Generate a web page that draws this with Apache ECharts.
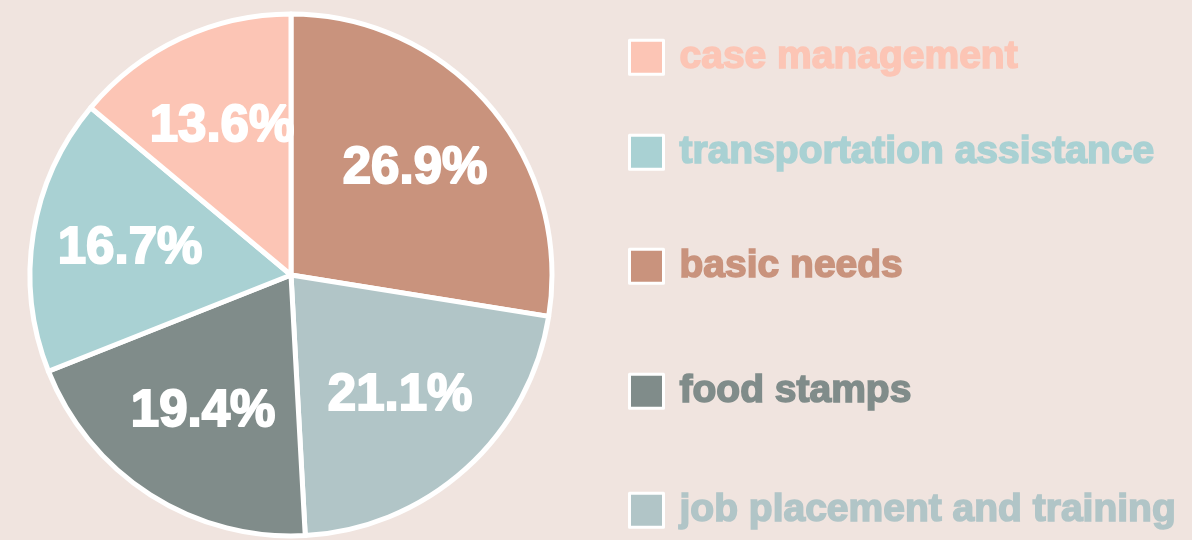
<!DOCTYPE html>
<html>
<head>
<meta charset="utf-8">
<script src="https://cdn.jsdelivr.net/npm/echarts@6/dist/echarts.min.js"></script>
<style>
  html, body { margin: 0; padding: 0; background: #f0e4df; }
  #chart { width: 1192px; height: 540px; }
</style>
</head>
<body>
<div id="chart"></div>
<script>
// Slices in drawing order (clockwise from 12 o'clock)
const categories = ['basic needs', 'job placement and training', 'food stamps', 'transportation assistance', 'case management'];
const values = [26.9, 21.1, 19.4, 16.7, 13.6];
const colors = ['#c9937d', '#b1c5c7', '#808c8a', '#a9d1d3', '#fcc5b5'];
// Legend order (top to bottom)
const legendOrder = ['case management', 'transportation assistance', 'basic needs', 'food stamps', 'job placement and training'];
const legendCenters = [57, 152, 266, 391, 510];

const FONT = '"Liberation Sans", Arial, sans-serif';
const colorOf = {};
categories.forEach((c, i) => colorOf[c] = colors[i]);

const pieData = categories.map((c, i) => ({ name: c, value: values[i], itemStyle: { color: colors[i] } }));

const legends = legendOrder.map((name, i) => ({
  orient: 'vertical',
  left: 628,
  top: legendCenters[i] - 20,
  padding: 0,
  icon: 'rect',
  itemWidth: 34,
  itemHeight: 34,
  selectedMode: false,
  itemStyle: { borderColor: '#ffffff', borderWidth: 3 },
  textStyle: {
    fontFamily: FONT,
    fontWeight: 'bold',
    fontSize: 39,
    lineHeight: 40,
    padding: [0, 0, 0, 11],
    color: colorOf[name],
    textBorderColor: colorOf[name],
    textBorderWidth: 1.6
  },
  data: [{ name: name, textStyle: { color: colorOf[name], textBorderColor: colorOf[name] } }]
}));

const chart = echarts.init(document.getElementById('chart'), null, { renderer: 'canvas' });
chart.setOption({
  backgroundColor: '#f0e4df',
  animation: false,
  legend: legends,
  series: [
    {
      type: 'pie',
      center: [291, 275],
      radius: 261,
      startAngle: 90,
      clockwise: true,
      silent: true,
      label: { show: false },
      labelLine: { show: false },
      itemStyle: { borderColor: '#ffffff', borderWidth: 5 },
      data: pieData
    },
    {
      type: 'pie',
      center: [291, 275],
      radius: [58, 262],
      startAngle: 90,
      clockwise: true,
      silent: true,
      legendHoverLink: false,
      itemStyle: { color: 'rgba(0,0,0,0)', borderWidth: 0 },
      label: {
        show: true,
        position: 'inside',
        formatter: p => p.value.toFixed(1) + '%',
        color: '#ffffff',
        fontFamily: FONT,
        fontWeight: 'bold',
        fontSize: 51,
        textBorderColor: '#ffffff',
        textBorderWidth: 2
      },
      labelLine: { show: false },
      data: categories.map((c, i) => ({ name: c, value: values[i] }))
    }
  ]
});
</script>
</body>
</html>
